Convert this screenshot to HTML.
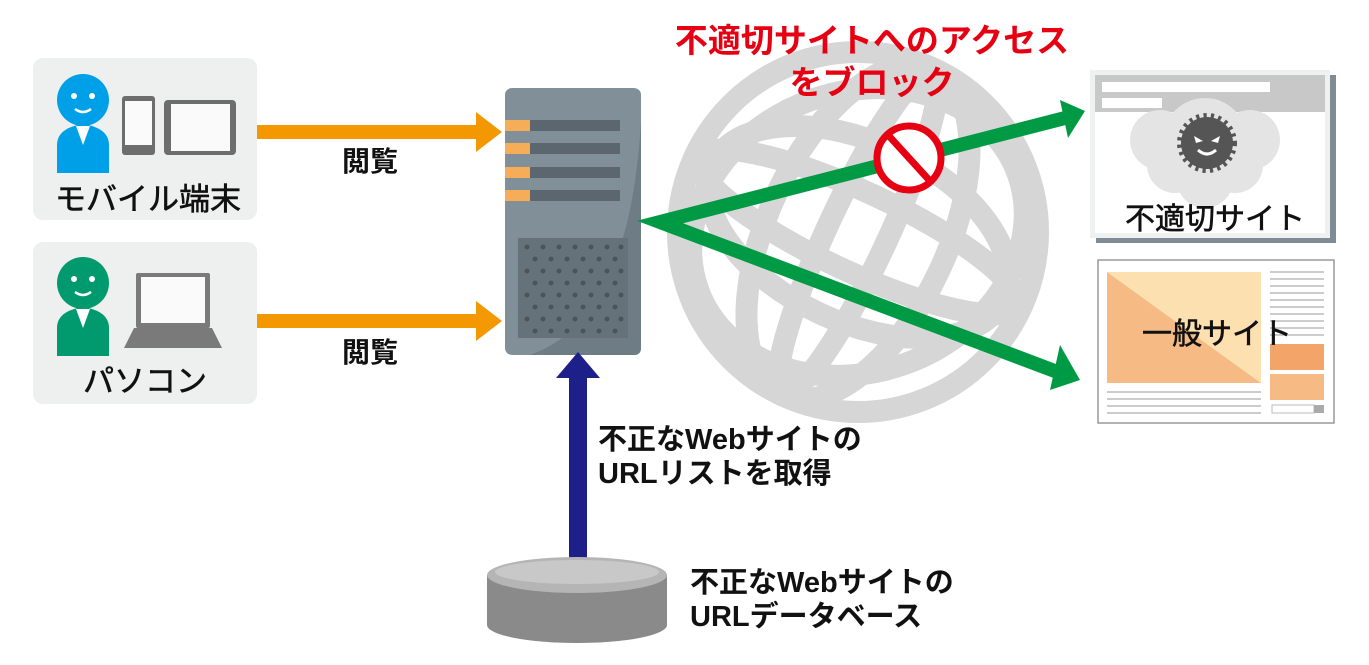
<!DOCTYPE html>
<html><head><meta charset="utf-8"><style>
html,body{margin:0;padding:0;background:#fff;}
svg{display:block;}
text{font-family:"Liberation Sans","Noto Sans CJK JP",sans-serif;}
</style></head><body>
<svg width="1369" height="665" viewBox="0 0 1369 665" xmlns="http://www.w3.org/2000/svg">
<g fill="none" stroke="#d6d6d6" stroke-width="22">
<circle cx="858" cy="232" r="180"/>
<ellipse cx="858" cy="232" rx="90" ry="180" transform="rotate(25 858 232)"/>
<ellipse cx="858" cy="232" rx="160" ry="90" transform="rotate(25 858 232)"/>
<ellipse cx="858" cy="232" rx="175" ry="40" transform="rotate(25 858 232)"/>
<ellipse cx="858" cy="232" rx="30" ry="178" transform="rotate(25 858 232)"/>
<ellipse cx="858" cy="232" rx="170" ry="140" transform="rotate(-20 858 232)"/>
</g>
<rect x="33" y="58" width="224" height="162" rx="10" fill="#eeefef"/>
<rect x="33" y="242" width="224" height="162" rx="10" fill="#eeefef"/>
<circle cx="83" cy="100" r="26" fill="#00a0e9"/>
<path d="M57 173 V145 Q57 128 83 124 Q109 128 109 145 V173 Z" fill="#00a0e9"/>
<path d="M76 126 L83 145 L90 126 Z" fill="#fff"/>
<circle cx="74" cy="96" r="3" fill="#fff"/><circle cx="92" cy="96" r="3" fill="#fff"/>
<path d="M75 109 Q83 115 91 109" stroke="#fff" stroke-width="2.5" fill="none"/>
<rect x="122" y="96" width="33" height="59" rx="3" fill="#6d6d6d"/>
<rect x="125" y="101" width="27" height="44" fill="#fafafa"/>
<rect x="164" y="100" width="72" height="55" rx="4" fill="#6d6d6d"/>
<rect x="171" y="104" width="59" height="47" fill="#fafafa"/>
<text x="148" y="210" font-size="31" text-anchor="middle" fill="#111" stroke="#111" stroke-width="0.6">モバイル端末</text>
<circle cx="83" cy="283" r="26" fill="#009a6e"/>
<path d="M57 356 V328 Q57 311 83 307 Q109 311 109 328 V356 Z" fill="#009a6e"/>
<path d="M76 309 L83 328 L90 309 Z" fill="#fff"/>
<circle cx="74" cy="279" r="3" fill="#fff"/><circle cx="92" cy="279" r="3" fill="#fff"/>
<path d="M75 292 Q83 298 91 292" stroke="#fff" stroke-width="2.5" fill="none"/>
<rect x="136" y="273" width="74" height="55" rx="2" fill="#7a7a7a"/>
<rect x="141" y="277" width="64" height="46" fill="#fafafa"/>
<path d="M134 328 H212 L222 348 H124 Z" fill="#7a7a7a"/>
<text x="145" y="392" font-size="31" text-anchor="middle" fill="#111" stroke="#111" stroke-width="0.6">パソコン</text>
<g fill="#f39800">
<rect x="257" y="125" width="222" height="14"/><path d="M476 112 L502 132 L476 152 Z"/>
<rect x="257" y="314" width="222" height="14"/><path d="M476 301 L502 321 L476 341 Z"/>
</g>
<text x="370" y="171" font-size="28" font-weight="bold" text-anchor="middle" fill="#111">閲覧</text>
<text x="370" y="362" font-size="28" font-weight="bold" text-anchor="middle" fill="#111">閲覧</text>
<rect x="505" y="88" width="136" height="267" rx="7" fill="#808f98"/>
<path d="M641 120 Q630 320 530 355 H634 Q641 355 641 348 Z" fill="#6e7c85"/>
<g fill="#5b666e"><rect x="530" y="120" width="90" height="11"/><rect x="530" y="143" width="90" height="11"/><rect x="530" y="167" width="90" height="11"/><rect x="530" y="190" width="90" height="11"/></g>
<g fill="#f5ad57"><rect x="505" y="120" width="25" height="11"/><rect x="505" y="143" width="25" height="11"/><rect x="505" y="167" width="25" height="11"/><rect x="505" y="190" width="25" height="11"/></g>
<rect x="518" y="238" width="110" height="100" fill="#66727a"/>
<g fill="#4a545b">
<circle cx="527" cy="247" r="2.5"/><circle cx="543" cy="247" r="2.5"/><circle cx="559" cy="247" r="2.5"/><circle cx="575" cy="247" r="2.5"/><circle cx="591" cy="247" r="2.5"/><circle cx="607" cy="247" r="2.5"/><circle cx="621" cy="247" r="2.5"/>
<circle cx="535" cy="259" r="2.5"/><circle cx="551" cy="259" r="2.5"/><circle cx="567" cy="259" r="2.5"/><circle cx="583" cy="259" r="2.5"/><circle cx="599" cy="259" r="2.5"/><circle cx="615" cy="259" r="2.5"/>
<circle cx="527" cy="271" r="2.5"/><circle cx="543" cy="271" r="2.5"/><circle cx="559" cy="271" r="2.5"/><circle cx="575" cy="271" r="2.5"/><circle cx="591" cy="271" r="2.5"/><circle cx="607" cy="271" r="2.5"/><circle cx="621" cy="271" r="2.5"/>
<circle cx="535" cy="283" r="2.5"/><circle cx="551" cy="283" r="2.5"/><circle cx="567" cy="283" r="2.5"/><circle cx="583" cy="283" r="2.5"/><circle cx="599" cy="283" r="2.5"/><circle cx="615" cy="283" r="2.5"/>
<circle cx="527" cy="295" r="2.5"/><circle cx="543" cy="295" r="2.5"/><circle cx="559" cy="295" r="2.5"/><circle cx="575" cy="295" r="2.5"/><circle cx="591" cy="295" r="2.5"/><circle cx="607" cy="295" r="2.5"/><circle cx="621" cy="295" r="2.5"/>
<circle cx="535" cy="307" r="2.5"/><circle cx="551" cy="307" r="2.5"/><circle cx="567" cy="307" r="2.5"/><circle cx="583" cy="307" r="2.5"/><circle cx="599" cy="307" r="2.5"/><circle cx="615" cy="307" r="2.5"/>
<circle cx="527" cy="319" r="2.5"/><circle cx="543" cy="319" r="2.5"/><circle cx="559" cy="319" r="2.5"/><circle cx="575" cy="319" r="2.5"/><circle cx="591" cy="319" r="2.5"/><circle cx="607" cy="319" r="2.5"/><circle cx="621" cy="319" r="2.5"/>
<circle cx="535" cy="331" r="2.5"/><circle cx="551" cy="331" r="2.5"/><circle cx="567" cy="331" r="2.5"/><circle cx="583" cy="331" r="2.5"/><circle cx="599" cy="331" r="2.5"/><circle cx="615" cy="331" r="2.5"/>
</g>
<g stroke="#009944" stroke-width="14" fill="none" stroke-linejoin="miter">
<polyline points="1065,118 660,222 1060,373"/>
</g>
<g fill="#009944">
<path d="M1060 100 L1085 111 L1068 138 Z"/>
<path d="M1060 345 L1080 380 L1050 390 Z"/>
</g>
<circle cx="909" cy="158" r="32" fill="#fff" stroke="#e60012" stroke-width="7"/>
<line x1="888" y1="135" x2="930" y2="181" stroke="#e60012" stroke-width="7"/>
<text x="872" y="52" font-size="33" font-weight="bold" text-anchor="middle" fill="#e60012">不適切サイトへのアクセス</text>
<text x="872" y="94" font-size="33" font-weight="bold" text-anchor="middle" fill="#e60012">をブロック</text>
<rect x="1096" y="75" width="240" height="168" fill="#7f8c95"/>
<rect x="1090" y="70" width="240" height="168" fill="#eff0f0"/>
<rect x="1095" y="75" width="230" height="158" fill="#fff"/>
<rect x="1095" y="75" width="230" height="37" fill="#c8c8c8"/>
<rect x="1102" y="82" width="168" height="10" fill="#fff"/><rect x="1102" y="98" width="60" height="10" fill="#fff"/>
<g fill="#e4e4e4"><circle cx="1205" cy="140" r="42"/><circle cx="1160" cy="140" r="30"/><circle cx="1250" cy="140" r="30"/><circle cx="1175" cy="165" r="28"/><circle cx="1235" cy="165" r="28"/><circle cx="1205" cy="180" r="28"/></g>
<circle cx="1207" cy="143" r="26" fill="#555" stroke="#555" stroke-width="8" stroke-dasharray="3 4"/>
<path d="M1194 136 L1203 141 L1196 143 Z M1220 136 L1211 141 L1218 143 Z" fill="#fff"/>
<path d="M1198 150 Q1207 158 1216 150" stroke="#fff" stroke-width="3" fill="none"/>
<text x="1215" y="229" font-size="30" text-anchor="middle" fill="#111" stroke="#111" stroke-width="0.6">不適切サイト</text>
<rect x="1098" y="260" width="236" height="163" fill="#fff" stroke="#999" stroke-width="1.5"/>
<path d="M1107 272 H1261 V383 Z" fill="#fde0b0"/>
<path d="M1107 272 L1261 383 H1107 Z" fill="#f6bb84"/>
<rect x="1270" y="344" width="54" height="26" fill="#f3a468"/>
<rect x="1270" y="374" width="54" height="26" fill="#f6bb84"/>
<g stroke="#bbb" stroke-width="1.5">
<line x1="1270" y1="272" x2="1324" y2="272"/><line x1="1270" y1="279" x2="1324" y2="279"/><line x1="1270" y1="286" x2="1324" y2="286"/><line x1="1270" y1="293" x2="1324" y2="293"/><line x1="1270" y1="300" x2="1324" y2="300"/><line x1="1270" y1="307" x2="1324" y2="307"/><line x1="1270" y1="314" x2="1324" y2="314"/><line x1="1270" y1="321" x2="1324" y2="321"/><line x1="1270" y1="328" x2="1324" y2="328"/><line x1="1270" y1="335" x2="1324" y2="335"/>
<line x1="1107" y1="392" x2="1261" y2="392"/><line x1="1107" y1="399" x2="1261" y2="399"/><line x1="1107" y1="406" x2="1261" y2="406"/><line x1="1107" y1="413" x2="1261" y2="413"/>
</g>
<rect x="1272" y="405" width="42" height="8" fill="#fff" stroke="#bbb"/><rect x="1314" y="405" width="10" height="8" fill="#aaa"/>
<text x="1217" y="344" font-size="30" text-anchor="middle" fill="#111" stroke="#111" stroke-width="0.6">一般サイト</text>
<rect x="569" y="375" width="18" height="185" fill="#1d2088"/>
<path d="M556 378 L578 352 L600 378 Z" fill="#1d2088"/>
<text x="598" y="449" font-size="29" font-weight="bold" fill="#111">不正なWebサイトの</text>
<text x="598" y="483" font-size="29" font-weight="bold" fill="#111">URLリストを取得</text>
<path d="M487 575 V625 A90 18 0 0 0 667 625 V575 Z" fill="#8a8a8a"/>
<ellipse cx="577" cy="575" rx="90" ry="18" fill="#b5b5b5"/>
<ellipse cx="577" cy="572" rx="82" ry="12" fill="#c8c8c8"/>
<text x="690" y="592" font-size="29" font-weight="bold" fill="#111">不正なWebサイトの</text>
<text x="690" y="626" font-size="29" font-weight="bold" fill="#111">URLデータベース</text>
</svg>
</body></html>
